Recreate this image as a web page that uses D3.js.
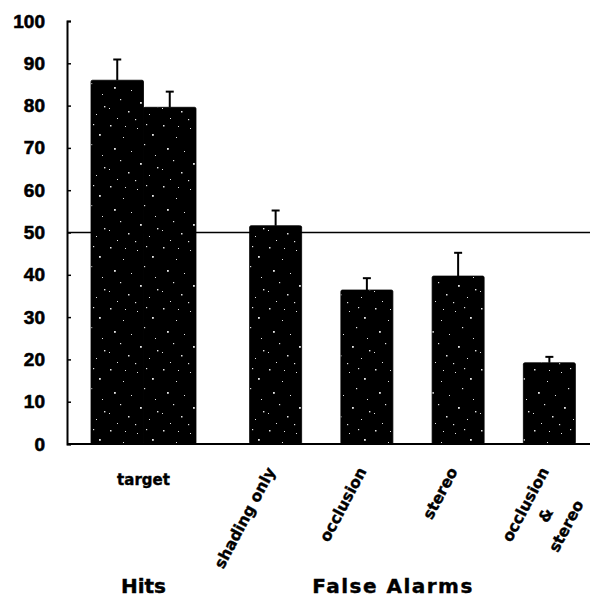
<!DOCTYPE html>
<html>
<head>
<meta charset="utf-8">
<script src="https://cdn.jsdelivr.net/npm/d3@7/dist/d3.min.js"></script>
<style>
  html, body { margin: 0; padding: 0; background: #fff; }
  svg { display: block; }
</style>
</head>
<body>
<svg id="chart" width="590" height="599"></svg>
<script>
// Percent "same" responses: hits for the target, false alarms for each cue condition
const hitKeys = ["target-1", "target-2"];
const hitValues = [86.0, 79.6];
const hitErrors = [4.9, 3.7];

const faCategories = ["shading only", "occlusion", "stereo", "occlusion & stereo"];
const faLabelLines = [["shading only"], ["occlusion"], ["stereo"], ["occlusion", "&", "stereo"]];
const faValues = [51.6, 36.4, 39.7, 19.2];
const faErrors = [3.6, 2.8, 5.5, 1.4];

const yTicks = [0, 10, 20, 30, 40, 50, 60, 70, 80, 90, 100];
const chanceLevel = 50;

const svg = d3.select("#chart");
const W = 590;

const y = d3.scaleLinear().domain([0, 100]).range([444, 21]);
const xHits = d3.scaleBand().domain(hitKeys).range([91, 196]).padding(0);
const xFA = d3.scaleBand().domain(faCategories).range([204, 621])
  .paddingInner(0.43).paddingOuter(0.5);
const axisX = 67;

// stippled black fill for the bars
const defs = svg.append("defs");
const pat = defs.append("pattern").attr("id", "stipple")
  .attr("patternUnits", "userSpaceOnUse").attr("width", 53).attr("height", 61);
pat.append("rect").attr("width", 53).attr("height", 61).attr("fill", "#000");
const dots = [
  [4,3,1.5],[31,6,1],[46,12,1.8],[17,15,1],[38,22,1.2],[8,26,1.8],[25,29,1],
  [49,33,1],[14,38,1.2],[34,41,1.8],[3,47,1],[22,50,1.5],[43,53,1],[11,57,1],
  [29,58,1.2],[51,45,1.4],[19,4,1],[40,2,1.2]
];
pat.selectAll("rect.d").data(dots).join("rect").attr("class", "d")
  .attr("x", d => d[0]).attr("y", d => d[1]).attr("width", d => d[2]).attr("height", d => d[2])
  .attr("fill", "#fff").attr("opacity", 0.9);

const bars = hitKeys.map((k, i) => ({ x: xHits(k), w: xHits.bandwidth(), v: hitValues[i], e: hitErrors[i] }))
  .concat(faCategories.map((c, i) => ({ x: xFA(c), w: xFA.bandwidth(), v: faValues[i], e: faErrors[i] })));

// chance reference line, behind the bars
svg.append("line")
  .attr("x1", axisX).attr("x2", W)
  .attr("y1", y(chanceLevel)).attr("y2", y(chanceLevel))
  .attr("stroke", "#000").attr("stroke-width", 1.6);

// error bars (upper whisker only)
const eb = svg.append("g").attr("stroke", "#000").attr("stroke-width", 2);
eb.selectAll("line.v").data(bars).join("line").attr("class", "v")
  .attr("x1", d => d.x + d.w / 2).attr("x2", d => d.x + d.w / 2)
  .attr("y1", d => y(d.v)).attr("y2", d => y(d.v + d.e));
eb.selectAll("line.c").data(bars).join("line").attr("class", "c")
  .attr("x1", d => d.x + d.w / 2 - 4).attr("x2", d => d.x + d.w / 2 + 4)
  .attr("y1", d => y(d.v + d.e)).attr("y2", d => y(d.v + d.e));

// bars
svg.append("g").selectAll("rect").data(bars).join("rect")
  .attr("x", d => d.x).attr("width", d => d.w)
  .attr("y", d => y(d.v)).attr("height", d => y(0) - y(d.v))
  .attr("rx", 1.5)
  .attr("fill", "url(#stipple)").attr("stroke", "#000").attr("stroke-width", 0.8);

// x baseline
svg.append("line")
  .attr("x1", axisX).attr("x2", W)
  .attr("y1", y(0)).attr("y2", y(0))
  .attr("stroke", "#000").attr("stroke-width", 2);

// y axis
const yAxis = svg.append("g").attr("transform", `translate(${axisX},0)`)
  .call(d3.axisLeft(y).tickValues(yTicks).tickSize(-4).tickSizeOuter(-4).tickPadding(22));
yAxis.select(".domain").attr("stroke-width", 2);
yAxis.selectAll(".tick line").attr("stroke-width", 1.5);
yAxis.selectAll(".tick text")
  .attr("font-family", "'Liberation Sans', Arial, sans-serif")
  .attr("font-weight", "bold").attr("font-size", 19).attr("fill", "#000")
  .attr("stroke", "#000").attr("stroke-width", 0.6);

// category labels
const labelFont = "'DejaVu Sans', sans-serif";
const heavy = sel => sel.attr("font-family", labelFont).attr("font-weight", "bold")
  .attr("fill", "#000").attr("stroke", "#000").attr("stroke-width", 0.4);

svg.append("text")
  .attr("x", d3.mean(xHits.range())).attr("y", 485)
  .attr("text-anchor", "middle").attr("font-size", 15)
  .call(heavy)
  .text("target");

const probe = svg.append("text").attr("font-size", 15.5).call(heavy);

faCategories.forEach((c, i) => {
  const lines = faLabelLines[i];
  probe.text(lines[0]);
  const len = probe.node().getComputedTextLength();
  const cx = xFA(c) + xFA.bandwidth() / 2;
  const g = svg.append("g")
    .attr("transform", `translate(${cx},${471}) rotate(-62)`);
  g.selectAll("text").data(lines).join("text")
    .attr("x", -len / 2).attr("y", (d, j) => j * 23)
    .attr("text-anchor", "middle").attr("font-size", 15.5)
    .call(heavy)
    .text(d => d);
});
probe.remove();

// group titles
svg.append("text")
  .attr("x", d3.mean(xHits.range())).attr("y", 593)
  .attr("text-anchor", "middle").attr("font-size", 20)
  .call(heavy)
  .text("Hits");
svg.append("text")
  .attr("x", 393).attr("y", 593)
  .attr("text-anchor", "middle").attr("font-size", 20)
  .attr("letter-spacing", "1.5px")
  .call(heavy)
  .text("False Alarms");
</script>
</body>
</html>
